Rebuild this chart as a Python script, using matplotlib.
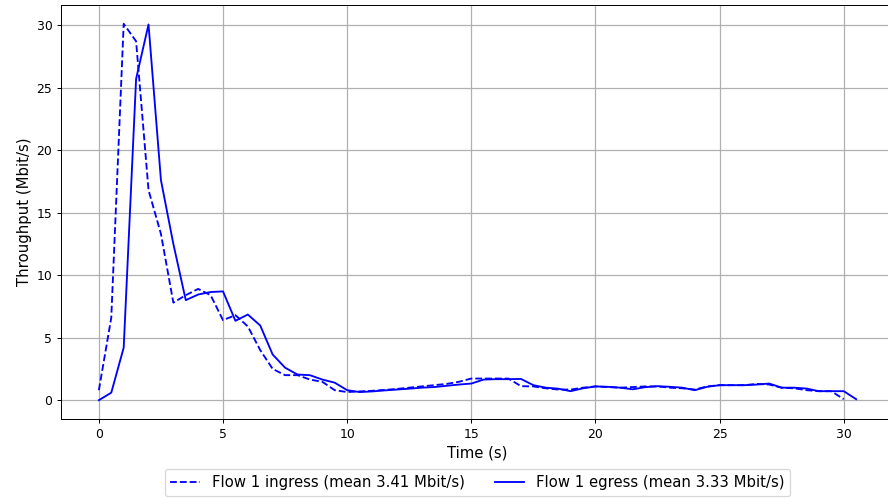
import matplotlib
matplotlib.use("Agg")
import matplotlib.pyplot as plt

t_in = [0, 0.5, 1, 1.5, 2, 2.5, 3, 3.5, 4, 4.5, 5, 5.5, 6, 6.5, 7, 7.5, 8, 8.5, 9, 9.5,
        10, 10.5, 11, 11.5, 12, 12.5, 13, 13.5, 14, 14.5, 15, 15.5, 16, 16.5, 17, 17.5, 18, 18.5, 19, 19.5,
        20, 20.5, 21, 21.5, 22, 22.5, 23, 23.5, 24, 24.5, 25, 25.5, 26, 26.5, 27, 27.5, 28, 28.5, 29, 29.5, 30]
ingress = [0.8, 6.6, 30.1, 28.7, 16.8, 13.3, 7.8, 8.4, 8.9, 8.4, 6.4, 6.8, 5.9, 4.0, 2.5, 2.0, 2.0, 1.65, 1.47, 0.8,
           0.65, 0.7, 0.75, 0.82, 0.9, 1.0, 1.1, 1.2, 1.3, 1.47, 1.73, 1.73, 1.73, 1.73, 1.12, 1.1, 0.95, 0.85, 0.85, 1.0,
           1.1, 1.05, 1.0, 1.05, 1.1, 1.1, 1.0, 0.95, 0.85, 1.1, 1.2, 1.2, 1.2, 1.3, 1.25, 1.0, 0.95, 0.8, 0.72, 0.72, 0.08]

t_eg = [0, 0.5, 1, 1.5, 2, 2.5, 3, 3.5, 4, 4.5, 5, 5.5, 6, 6.5, 7, 7.5, 8, 8.5, 9, 9.5,
        10, 10.5, 11, 11.5, 12, 12.5, 13, 13.5, 14, 14.5, 15, 15.5, 16, 16.5, 17, 17.5, 18, 18.5, 19, 19.5,
        20, 20.5, 21, 21.5, 22, 22.5, 23, 23.5, 24, 24.5, 25, 25.5, 26, 26.5, 27, 27.5, 28, 28.5, 29, 29.5, 30, 30.5]
egress = [0.0, 0.6, 4.2, 25.7, 30.05, 17.6, 12.5, 8.0, 8.45, 8.65, 8.7, 6.35, 6.85, 5.97, 3.65, 2.6, 2.05, 2.0, 1.65, 1.4,
          0.8, 0.65, 0.7, 0.78, 0.85, 0.92, 1.0, 1.05, 1.15, 1.25, 1.33, 1.65, 1.68, 1.68, 1.7, 1.2, 1.0, 0.92, 0.72, 0.95,
          1.1, 1.07, 1.0, 0.87, 1.04, 1.12, 1.07, 1.0, 0.8, 1.07, 1.2, 1.2, 1.2, 1.25, 1.33, 1.0, 1.0, 0.93, 0.72, 0.72, 0.72, 0.08]

DPI = 89
fig = plt.figure(figsize=(888 / DPI, 498 / DPI), dpi=DPI)
ax = fig.add_axes([61 / 888, 79 / 498, 833 / 888, 414 / 498])
ax.plot(t_in, ingress, color="blue", linestyle="--", linewidth=1.5,
        label="Flow 1 ingress (mean 3.41 Mbit/s)")
ax.plot(t_eg, egress, color="blue", linestyle="-", linewidth=1.5,
        label="Flow 1 egress (mean 3.33 Mbit/s)")
ax.set_xlim(-1.525, 32.025)
ax.set_ylim(-1.505, 31.605)
ax.set_xticks([0, 5, 10, 15, 20, 25, 30])
ax.set_yticks([0, 5, 10, 15, 20, 25, 30])
ax.grid(True, color="#b0b0b0", linewidth=1.0)
ax.set_axisbelow(True)
ax.tick_params(labelsize=10)
ax.set_xlabel("Time (s)", fontsize=12)
ax.set_ylabel("Throughput (Mbit/s)", fontsize=12)
ax.legend(loc="upper center", bbox_to_anchor=(0.5, -0.103), ncol=2, fontsize=12,
          frameon=True, handlelength=2.0, columnspacing=2.0)
fig.savefig("out.png", dpi=DPI)
